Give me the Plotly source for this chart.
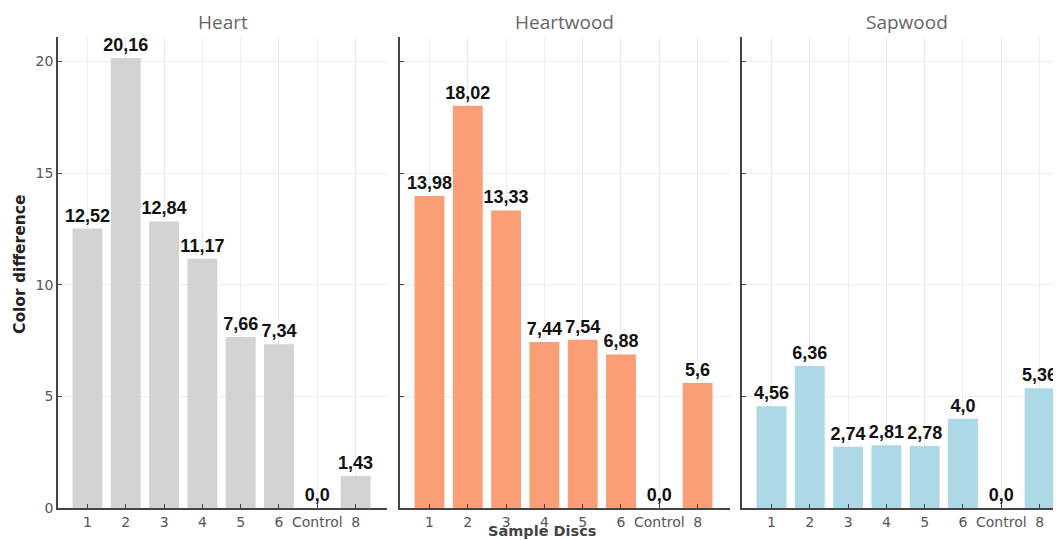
import plotly.graph_objects as go

categories = ["1", "2", "3", "4", "5", "6", "Control", "8"]
heart = [12.52, 20.16, 12.84, 11.17, 7.66, 7.34, 0.0, 1.43]
heartwood = [13.98, 18.02, 13.33, 7.44, 7.54, 6.88, 0.0, 5.6]
sapwood = [4.56, 6.36, 2.74, 2.81, 2.78, 4.0, 0.0, 5.36]
panel_titles = ["Heart", "Heartwood", "Sapwood"]
colors = ["#d3d3d3", "#fa9e78", "#add8e6"]
y_ticks = [0, 5, 10, 15, 20]

OFF = 8  # page body margin offset
W, H = 1061 - OFF, 540 - OFF
ml = 58 - OFF
mt = 37 - OFF
mb = H - (508 - OFF)
mr = 0
pw = W - ml - mr
ph = H - mt - mb

# panel pixel extents in reference coordinates (left, right)
panels_px = [(58, 387), (400, 730), (742, 1061)]
px_per_cat = 38.3
x0 = -0.77

def fx(px):
    return (px - OFF - ml) / pw

def fy(py):
    return (H - mb - (py - OFF)) / ph

fig = go.Figure()
series = [heart, heartwood, sapwood]
for i, (vals, col) in enumerate(zip(series, colors)):
    xa = "x" if i == 0 else f"x{i+1}"
    ya = "y" if i == 0 else f"y{i+1}"
    fig.add_trace(go.Bar(
        x=categories, y=vals, marker_color=col, marker_line_width=0,
        width=0.78,
        text=[str(v).replace(".", ",") for v in vals],
        textposition="outside", constraintext="none", cliponaxis=False,
        textfont=dict(family="Liberation Sans, Arial", size=18,
                      color="#111", weight="bold"),
        xaxis=xa, yaxis=ya, showlegend=False,
    ))

layout = dict(
    width=W, height=H,
    margin=dict(l=ml, r=mr, t=mt, b=mb, autoexpand=False),
    paper_bgcolor="white", plot_bgcolor="white",
)
annotations = []
for i, (l, r) in enumerate(panels_px):
    d0 = fx(l)
    d1 = min(fx(r), 1.0)
    span = (r - l) / px_per_cat
    sfx = "" if i == 0 else str(i + 1)
    layout["xaxis" + sfx] = dict(
        domain=[d0, d1], anchor="y" + sfx, type="category",
        range=[x0, x0 + span],
        showline=True, linecolor="#444", linewidth=1.5,
        ticks="inside", ticklen=4, tickcolor="#444",
        showgrid=True, gridcolor="#ececec", gridwidth=1,
        tickfont=dict(family="DejaVu Sans", size=14, color="#555"),
        zeroline=False, automargin=False,
    )
    layout["yaxis" + sfx] = dict(
        domain=[0, 1], anchor="x" + sfx, range=[0, 21.1],
        tickvals=y_ticks, showticklabels=(i == 0),
        showline=True, linecolor="#444", linewidth=1.5,
        ticks="inside", ticklen=4, tickcolor="#444",
        showgrid=True, gridcolor="#ececec", gridwidth=1,
        tickfont=dict(family="DejaVu Sans", size=14, color="#555"),
        zeroline=False, automargin=False,
    )
    full_r = l + 329
    annotations.append(dict(
        text=panel_titles[i], xref="paper", yref="paper",
        x=fx((l + full_r) / 2), y=fy(22), xanchor="center", yanchor="middle",
        showarrow=False,
        font=dict(family="Open Sans", size=19, color="#666"),
    ))

annotations.append(dict(
    text="<b>Color difference</b>", xref="paper", yref="paper",
    x=fx(20), y=fy(265), textangle=-90,
    xanchor="center", yanchor="middle", showarrow=False,
    font=dict(family="DejaVu Sans", size=15.5, color="#222"),
))
annotations.append(dict(
    text="<b>Sample Discs</b>", xref="paper", yref="paper",
    x=fx(542), y=fy(531),
    xanchor="center", yanchor="middle", showarrow=False,
    font=dict(family="DejaVu Sans", size=14.5, color="#444"),
))
layout["annotations"] = annotations
fig.update_layout(**layout)
fig.write_html("out.html")
